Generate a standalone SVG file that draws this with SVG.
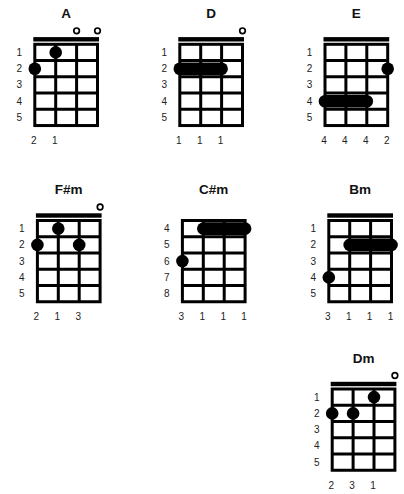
<svg xmlns="http://www.w3.org/2000/svg" xmlns:xlink="http://www.w3.org/1999/xlink" width="404" height="494" viewBox="0 0 404 494">
<style>
.title{font-family:"Liberation Sans",Arial,sans-serif;font-size:13.5px;font-weight:bold;fill:#111;text-anchor:middle}
.lbl{font-family:"Liberation Sans",Arial,sans-serif;font-size:10px;fill:#222;text-anchor:middle}
.grid{fill:none;stroke:#000;stroke-width:3}
.nut{fill:#000}
.open{fill:none;stroke:#000;stroke-width:1.7}
.dot{fill:#000}
</style>
<defs>
<g id="grid">
<rect class="grid" x="0" y="0" width="62.7" height="81.25"/>
<path class="grid" d="M20.9 0V81.25M41.8 0V81.25M0 16.25H62.7M0 32.5H62.7M0 48.75H62.7M0 65H62.7"/>
</g>
<rect id="nut" class="nut" x="-1.5" y="-7.2" width="65.7" height="4.4"/>
<g id="frets15">
<text class="lbl" x="-15.5" y="11.7">1</text>
<text class="lbl" x="-15.5" y="27.9">2</text>
<text class="lbl" x="-15.5" y="44.2">3</text>
<text class="lbl" x="-15.5" y="60.4">4</text>
<text class="lbl" x="-15.5" y="76.7">5</text>
</g>
</defs>
<g id="connectors"/>

<g id="chord-A" transform="translate(34.8,44.3)">
<text class="title" x="31.35" y="-26.5">A</text>
<circle class="open" cx="41.8" cy="-13.5" r="2.8"/>
<circle class="open" cx="62.7" cy="-13.5" r="2.8"/>
<use xlink:href="#nut"/>
<use xlink:href="#grid"/>
<use xlink:href="#frets15"/>
<circle class="dot" cx="20.9" cy="8.1" r="6.3"/>
<circle class="dot" cx="0" cy="24.4" r="6.3"/>
<text class="lbl" x="-1" y="99.5">2</text>
<text class="lbl" x="19.9" y="99.5">1</text>
</g>

<g id="chord-D" transform="translate(179.8,44.3)">
<text class="title" x="31.35" y="-26.5">D</text>
<circle class="open" cx="62.7" cy="-13.5" r="2.8"/>
<use xlink:href="#nut"/>
<use xlink:href="#grid"/>
<use xlink:href="#frets15"/>
<rect class="dot" x="-6.3" y="18.1" width="54.4" height="12.6" rx="6.3"/>
<text class="lbl" x="-1" y="99.5">1</text>
<text class="lbl" x="19.9" y="99.5">1</text>
<text class="lbl" x="40.8" y="99.5">1</text>
</g>

<g id="chord-E" transform="translate(325,44.3)">
<text class="title" x="31.35" y="-26.5">E</text>
<use xlink:href="#nut"/>
<use xlink:href="#grid"/>
<use xlink:href="#frets15"/>
<circle class="dot" cx="62.7" cy="24.4" r="6.3"/>
<rect class="dot" x="-6.3" y="50.6" width="54.4" height="12.6" rx="6.3"/>
<text class="lbl" x="-1" y="99.5">4</text>
<text class="lbl" x="19.9" y="99.5">4</text>
<text class="lbl" x="40.8" y="99.5">4</text>
<text class="lbl" x="61.7" y="99.5">2</text>
</g>

<g id="chord-Fsm" transform="translate(37.4,220.5)">
<text class="title" x="31.35" y="-26.5">F#m</text>
<circle class="open" cx="62.7" cy="-13.5" r="2.8"/>
<use xlink:href="#nut"/>
<use xlink:href="#grid"/>
<use xlink:href="#frets15"/>
<circle class="dot" cx="20.9" cy="8.1" r="6.3"/>
<circle class="dot" cx="0" cy="24.4" r="6.3"/>
<circle class="dot" cx="41.8" cy="24.4" r="6.3"/>
<text class="lbl" x="-1" y="99.5">2</text>
<text class="lbl" x="19.9" y="99.5">1</text>
<text class="lbl" x="40.8" y="99.5">3</text>
</g>

<g id="chord-Csm" transform="translate(182.4,220.5)">
<text class="title" x="31.35" y="-26.5">C#m</text>
<use xlink:href="#grid"/>
<text class="lbl" x="-15.5" y="11.7">4</text>
<text class="lbl" x="-15.5" y="27.9">5</text>
<text class="lbl" x="-15.5" y="44.2">6</text>
<text class="lbl" x="-15.5" y="60.4">7</text>
<text class="lbl" x="-15.5" y="76.7">8</text>
<rect class="dot" x="14.6" y="1.8" width="54.4" height="12.6" rx="6.3"/>
<circle class="dot" cx="0" cy="40.6" r="6.3"/>
<text class="lbl" x="-1" y="99.5">3</text>
<text class="lbl" x="19.9" y="99.5">1</text>
<text class="lbl" x="40.8" y="99.5">1</text>
<text class="lbl" x="61.7" y="99.5">1</text>
</g>

<g id="chord-Bm" transform="translate(328.8,220.5)">
<text class="title" x="31.35" y="-26.5">Bm</text>
<use xlink:href="#nut"/>
<use xlink:href="#grid"/>
<use xlink:href="#frets15"/>
<rect class="dot" x="14.6" y="18.1" width="54.4" height="12.6" rx="6.3"/>
<circle class="dot" cx="0" cy="56.9" r="6.3"/>
<text class="lbl" x="-1" y="99.5">3</text>
<text class="lbl" x="19.9" y="99.5">1</text>
<text class="lbl" x="40.8" y="99.5">1</text>
<text class="lbl" x="61.7" y="99.5">1</text>
</g>

<g id="chord-Dm" transform="translate(332.2,389)">
<text class="title" x="31.35" y="-26.5">Dm</text>
<circle class="open" cx="62.7" cy="-13.5" r="2.8"/>
<use xlink:href="#nut"/>
<use xlink:href="#grid"/>
<use xlink:href="#frets15"/>
<circle class="dot" cx="41.8" cy="8.1" r="6.3"/>
<circle class="dot" cx="0" cy="24.4" r="6.3"/>
<circle class="dot" cx="20.9" cy="24.4" r="6.3"/>
<text class="lbl" x="-1" y="99.5">2</text>
<text class="lbl" x="19.9" y="99.5">3</text>
<text class="lbl" x="40.8" y="99.5">1</text>
</g>
</svg>
